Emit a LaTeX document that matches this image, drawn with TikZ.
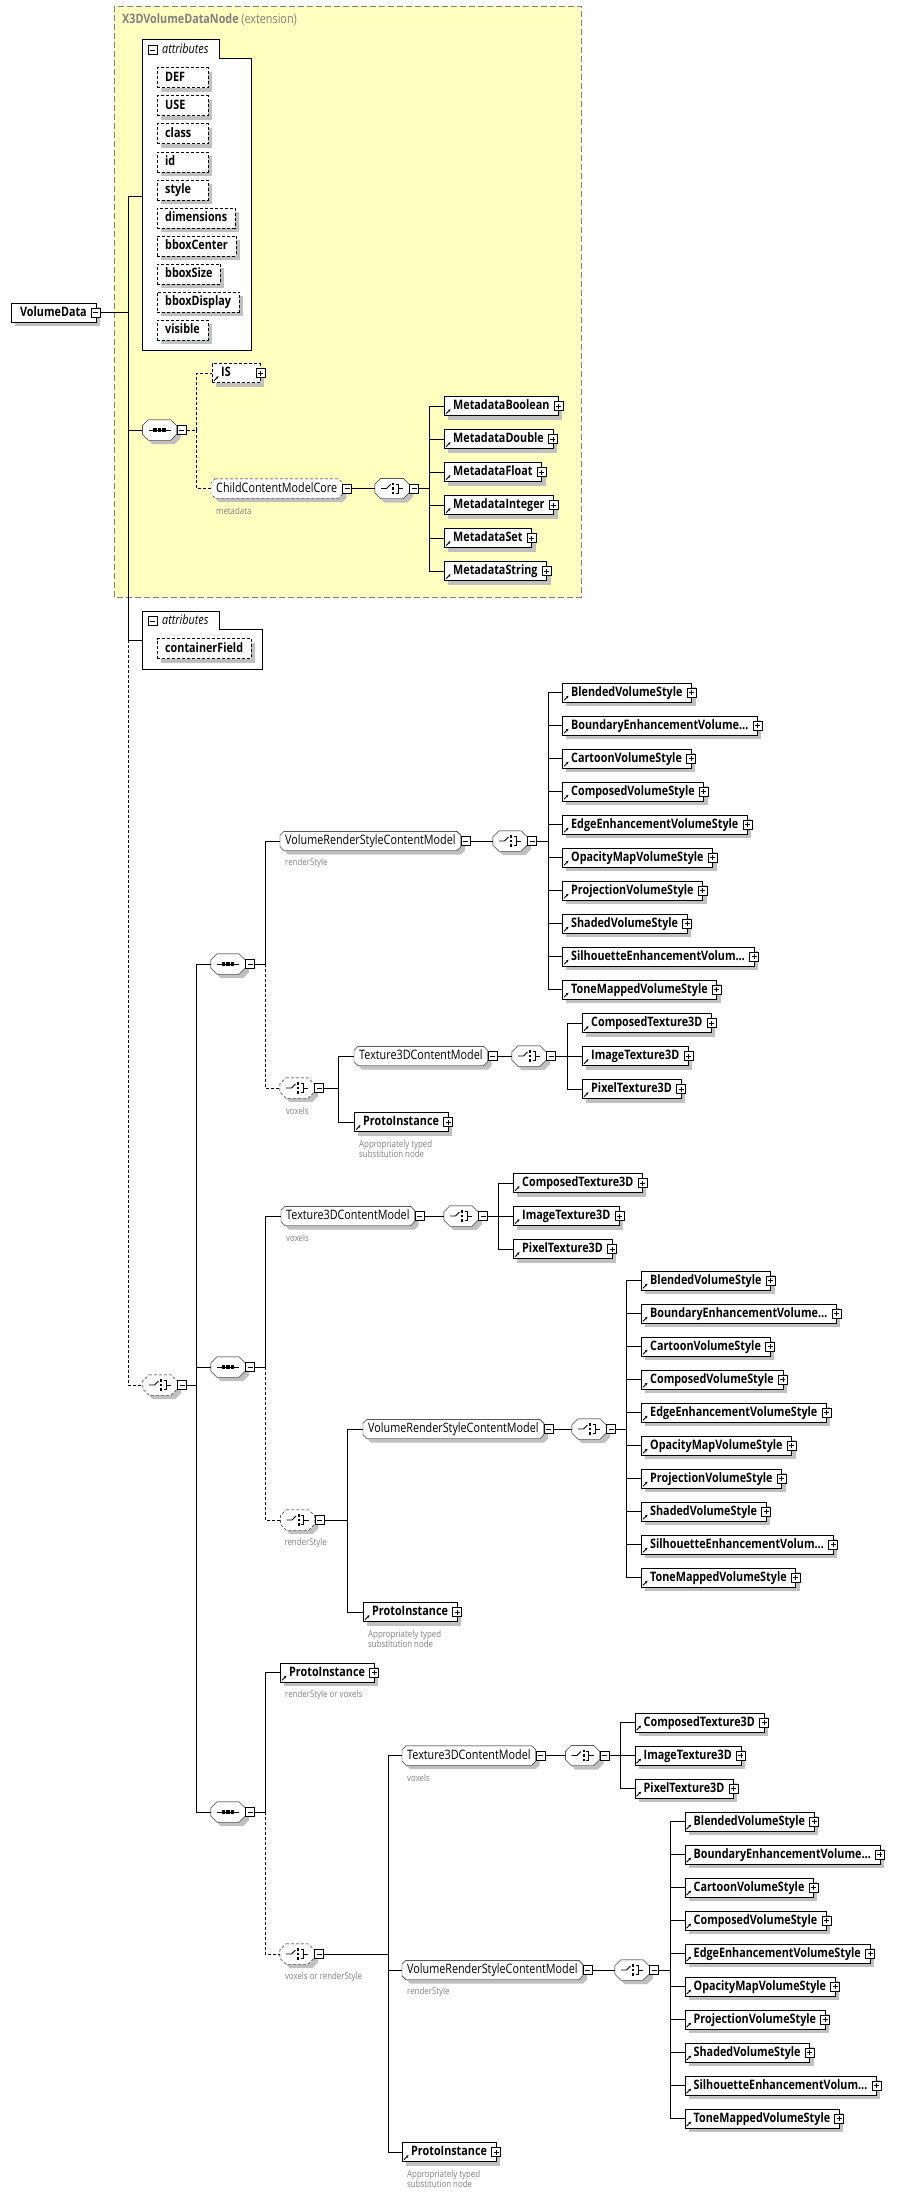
\documentclass[tikz,border=0pt]{standalone}
\usepackage{fontspec}
\setmainfont{Open Sans}[FakeStretch=0.83]
\usetikzlibrary{positioning, arrows.meta, shadows}
\definecolor{shadowgray}{RGB}{192,192,192}
\definecolor{notegray}{RGB}{128,128,128}
\definecolor{extyellow}{RGB}{255,255,192}
\pgfdeclarelayer{back}
\pgfdeclarelayer{shd}
\pgfdeclarelayer{body}
\pgfsetlayers{back,shd,body,main}
\newcommand\boxfont{\fontsize{13pt}{15pt}\selectfont}
\newcommand\notefont{\fontsize{9.5pt}{10.5pt}\selectfont}
\newcommand\stylelist{BlendedVolumeStyle,BoundaryEnhancementVolume\ldots,CartoonVolumeStyle,ComposedVolumeStyle,EdgeEnhancementVolumeStyle,OpacityMapVolumeStyle,ProjectionVolumeStyle,ShadedVolumeStyle,SilhouetteEnhancementVolum\ldots,ToneMappedVolumeStyle}
\newcommand\texlist{ComposedTexture3D,ImageTexture3D,PixelTexture3D}
\newcommand\metalist{MetadataBoolean,MetadataDouble,MetadataFloat,MetadataInteger,MetadataSet,MetadataString}
% left aligned text, padded to a least width
\newcommand\minw[2]{\setbox0\hbox{#2}\ifdim\wd0<#1\hbox to #1{\box0\hfil}\else\box0\fi}

% octagon outline round a node: node, chamfer, offset
\newcommand\octpath[3]{([shift={(#2+#3,-#3)}]#1.north west) -- ([shift={(-#2+#3,-#3)}]#1.north east)
  -- ([shift={(#3,-#2-#3)}]#1.north east) -- ([shift={(#3,#2-#3)}]#1.south east)
  -- ([shift={(-#2+#3,-#3)}]#1.south east) -- ([shift={(#2+#3,-#3)}]#1.south west)
  -- ([shift={(#3,#2-#3)}]#1.south west) -- ([shift={(#3,-#2-#3)}]#1.north west) -- cycle}
\newcommand\octbox[3][solid]{%
  \begin{pgfonlayer}{shd}\fill[shadowgray] \octpath{#2}{#3}{4pt};\end{pgfonlayer}
  \begin{pgfonlayer}{body}\draw[fill=white,#1] \octpath{#2}{#3}{0pt};\end{pgfonlayer}}
\newcommand\seqicon[1]{%
  \draw (#1.center) +(-11pt,0pt) -- +(11pt,0pt);
  \foreach \d in {-4.5,0,4.5} \fill ([xshift=\d pt]#1.center) +(-1.6pt,-1.6pt) rectangle +(1.6pt,1.6pt);}
\newcommand\choiceicon[1]{%
  \draw[line width=0.8pt] (#1.center) +(-11pt,0pt) -- +(-5.5pt,0pt) -- +(-1.5pt,4pt);
  \draw[line width=0.8pt] (#1.center) +(3.5pt,4.5pt) -- +(6pt,4.5pt) -- +(6pt,-4.5pt) -- +(3.5pt,-4.5pt) +(6pt,0pt) -- +(11pt,0pt);
  \foreach \d in {-4.5,0,4.5} \fill ([yshift=\d pt]#1.center) +(0pt,-1.2pt) rectangle +(2.4pt,1.2pt);}
\newcommand\seqnode[2]{%
  \node[comp] (#1) at (#2) {};
  \octbox{#1}{6pt}
  \seqicon{#1}
  \node[mbox, anchor=west] (#1-m) at (#1.east) {};}
\newcommand\choicenode[3][solid]{%
  \node[comp] (#2) at (#3) {};
  \octbox[#1]{#2}{6pt}
  \choiceicon{#2}
  \node[mbox, anchor=west] (#2-m) at (#2.east) {};}
\newcommand\grpnode[4][solid]{%
  \node[grp] (#2) at (#3) {#4};
  \octbox[#1]{#2}{4pt}
  \node[mbox, anchor=west] (#2-m) at (#2.east) {};}
\newcommand\refbox[4][elem]{%
  \node[#1] (#2) at (#3) {#4\hspace{3pt}};
  \draw[-{Stealth[length=2.6pt,width=2.6pt]}, line width=0.9pt, solid] ([shift={(2pt,2pt)}]#2.south west) -- ++(4.5pt,4.5pt);
  \node[pbox] (#2-p) at (#2.east) {};}

\begin{document}
\begin{tikzpicture}[x=1pt, y=-1pt, line width=1pt,
  dsh/.style={dash pattern=on 3pt off 2pt},
  shadowed/.style={drop shadow={shadow xshift=4pt, shadow yshift=-4pt, fill=shadowgray, opacity=1}},
  box/.style={anchor=west, minimum height=19pt, inner ysep=0pt, text height=9.5pt, text depth=2.5pt, font=\boxfont},
  elem/.style={box, draw, fill=white, inner xsep=9pt, font=\boxfont\bfseries, shadowed},
  elemd/.style={elem, dsh},
  attr/.style={box, draw, dsh, fill=white, minimum height=20pt, inner xsep=8pt, font=\boxfont\bfseries, shadowed},
  grp/.style={box, inner xsep=5pt},
  comp/.style={minimum width=34pt, minimum height=20pt, inner sep=0pt},
  sq/.style={draw, solid, fill=white, minimum size=9pt, inner sep=0pt, line width=0.8pt},
  mbox/.style={sq, path picture={\draw[line width=0.8pt] ([xshift=2pt]path picture bounding box.west) -- ([xshift=-2pt]path picture bounding box.east);}},
  pbox/.style={sq, path picture={\draw[line width=0.8pt] ([xshift=2pt]path picture bounding box.west) -- ([xshift=-2pt]path picture bounding box.east) ([yshift=2pt]path picture bounding box.south) -- ([yshift=-2pt]path picture bounding box.north);}},
  note/.style={anchor=west, inner sep=0pt, font=\notefont, text=notegray, align=left},
  extbox/.style={draw=notegray, fill=extyellow, dash pattern=on 6pt off 3pt}]
\useasboundingbox (0,0) rectangle (914,2197);

% extension base
\begin{pgfonlayer}{back}
  \draw[extbox] (114,6) rectangle (581,597);
\end{pgfonlayer}
\node[box, inner xsep=0pt, text=notegray] (extT) at (122,20) {\textbf{X3DVolumeDataNode} (extension)};

% attributes
\draw[fill=white] (142.5,39) -- (219.5,39) -- (219.5,58) -- (251,58) -- (251,350) -- (142.5,350) -- cycle;
\coordinate (atts) at (142.5,196);
\node[mbox] (atts-m) at (152.5,50) {};
\node[box, inner xsep=0pt, font=\boxfont\itshape] (attsT) at (162,50) {attributes};
\foreach \nm [count=\i] in {DEF,USE,class,id,style,dimensions,bboxCenter,bboxSize,bboxDisplay,visible}
  \node[attr] (att\i) at (157,{77.7+28*(\i-1)}) {\minw{35pt}{\nm}};

% root
\node[elem] (vd) at (11,312.5) {VolumeData\hspace{3pt}};
\node[mbox] (vd-m) at (vd.east) {};
\coordinate (sp1) at (128,196);
\coordinate (sp2) at (128,640);
\coordinate (sp3) at (128,1385);
\draw (vd-m.east) -- (vd-m.east -| sp1);
\draw (atts) -- (sp1) -- (sp2);

% IS / metadata
\seqnode{seqT}{159.5,430}
\draw (seqT.west -| sp1) -- (seqT.west);
\coordinate (barT) at (196.5,430);
\refbox[elemd]{isb}{212,373}{\minw{30pt}{IS}}
\grpnode[dsh]{ccmc}{211,488.5}{ChildContentModelCore}
\node[note] (ccmcL) at ([shift={(5pt,-12.5pt)}]ccmc.south west) {metadata};
\draw[dsh] (seqT-m.east) -- (barT);
\draw[dsh] (barT) |- (isb.west);
\draw[dsh] (barT) |- (ccmc.west);
\choicenode{chM}{392,488.5}
\coordinate (barM) at (429.5,488.5);
\draw (ccmc-m.east) -- (chM.west);
\draw (chM-m.east) -- (barM);
\foreach \nm [count=\i] in \metalist {
  \refbox{md\i}{444,{406+33*(\i-1)}}{\nm}
  \draw (barM) |- (md\i.west);
}

% containerField
\draw[fill=white] (142,611) -- (219,611) -- (219,629) -- (262,629) -- (262,669) -- (142,669) -- cycle;
\coordinate (atts2) at (142,640);
\node[mbox] (atts2-m) at (152.5,621) {};
\node[box, inner xsep=0pt, font=\boxfont\itshape] (atts2T) at (162,621) {attributes};
\node[attr] (cf) at (157,648.5) {containerField\hspace{1pt}};
\draw (sp2) -- (atts2);

% content choice
\choicenode[dsh]{chT}{160,1385}
\draw[dsh] (sp2) -- (sp3) -- (chT.west);
\coordinate (barTC) at (196,1385);
\draw (chT-m.east) -- (barTC);

% sequence A
\seqnode{seqA}{228,964}
\coordinate (jA) at (265,964);
\draw (barTC) |- (seqA.west);
\grpnode{vrsA}{280,841}{VolumeRenderStyleContentModel}
\node[note] (vrsAL) at ([shift={(5pt,-12.5pt)}]vrsA.south west) {renderStyle};
\choicenode[dsh]{chA}{297,1088}
\node[note] (chAL) at ([shift={(6pt,-12.5pt)}]chA.south west) {voxels};
\draw (seqA-m.east) -- (jA) |- (vrsA.west);
\draw[dsh] (jA) |- (chA.west);
\choicenode{chvA}{510,841}
\coordinate (barvA) at (548,841);
\draw (vrsA-m.east) -- (chvA.west);
\draw (chvA-m.east) -- (barvA);
\foreach \nm [count=\i] in \stylelist {
  \refbox{stA\i}{562,{692.5+33*(\i-1)}}{\nm}
  \draw (barvA) |- (stA\i.west);
}
\coordinate (barA) at (338,1088);
\draw (chA-m.east) -- (barA);
\grpnode{t3A}{354,1056}{Texture3DContentModel}
\refbox{piA}{354,1122}{ProtoInstance}
\node[note, anchor=north west] (piAL) at ([shift={(5pt,-8pt)}]piA.south west) {Appropriately typed\\substitution node};
\draw (barA) |- (t3A.west);
\draw (barA) |- (piA.west);
\choicenode{chtA}{529,1056}
\coordinate (bartA) at (567,1056);
\draw (t3A-m.east) -- (chtA.west);
\draw (chtA-m.east) -- (bartA);
\foreach \nm [count=\i] in \texlist {
  \refbox{txA\i}{582,{1023+33*(\i-1)}}{\nm}
  \draw (bartA) |- (txA\i.west);
}

% sequence B
\seqnode{seqB}{228,1367}
\coordinate (jB) at (265,1367);
\draw (barTC) |- (seqB.west);
\grpnode{t3B}{281,1216}{Texture3DContentModel}
\node[note] (t3BL) at ([shift={(5pt,-12.5pt)}]t3B.south west) {voxels};
\choicenode[dsh]{chB}{297.5,1520}
\node[note] (chBL) at ([shift={(4pt,-12.5pt)}]chB.south west) {renderStyle};
\draw (seqB-m.east) -- (jB) |- (t3B.west);
\draw[dsh] (jB) |- (chB.west);
\choicenode{chtB}{461,1216}
\coordinate (bartB) at (498,1216);
\draw (t3B-m.east) -- (chtB.west);
\draw (chtB-m.east) -- (bartB);
\foreach \nm [count=\i] in \texlist {
  \refbox{txB\i}{513,{1183+33*(\i-1)}}{\nm}
  \draw (bartB) |- (txB\i.west);
}
\coordinate (barB) at (347,1520);
\draw (chB-m.east) -- (barB);
\grpnode{vrsB}{363,1429}{VolumeRenderStyleContentModel}
\refbox{piB}{363,1612}{ProtoInstance}
\node[note, anchor=north west] (piBL) at ([shift={(5pt,-8pt)}]piB.south west) {Appropriately typed\\substitution node};
\draw (barB) |- (vrsB.west);
\draw (barB) |- (piB.west);
\choicenode{chvB}{589,1429}
\coordinate (barvB) at (626,1429);
\draw (vrsB-m.east) -- (chvB.west);
\draw (chvB-m.east) -- (barvB);
\foreach \nm [count=\i] in \stylelist {
  \refbox{stB\i}{641,{1280.5+33*(\i-1)}}{\nm}
  \draw (barvB) |- (stB\i.west);
}

% sequence C
\seqnode{seqC}{228,1812}
\coordinate (jC) at (265,1812);
\draw (barTC) |- (seqC.west);
\refbox{piC}{280,1672.5}{ProtoInstance}
\node[note] (piCL) at ([shift={(5pt,-12.5pt)}]piC.south west) {renderStyle or voxels};
\choicenode[dsh]{chC}{297,1954}
\node[note] (chCL) at ([shift={(5pt,-12.5pt)}]chC.south west) {voxels or renderStyle};
\draw (seqC-m.east) -- (jC) |- (piC.west);
\draw[dsh] (jC) |- (chC.west);
\coordinate (barC) at (388,1954);
\draw (chC-m.east) -- (barC);
\grpnode{t3C}{402,1755.5}{Texture3DContentModel}
\node[note] (t3CL) at ([shift={(5pt,-12.5pt)}]t3C.south west) {voxels};
\grpnode{vrsC}{402,1970}{VolumeRenderStyleContentModel}
\node[note] (vrsCL) at ([shift={(5pt,-12.5pt)}]vrsC.south west) {renderStyle};
\refbox{piD}{402,2152}{ProtoInstance}
\node[note, anchor=north west] (piDL) at ([shift={(5pt,-8pt)}]piD.south west) {Appropriately typed\\substitution node};
\draw (barC) |- (t3C.west);
\draw (barC) |- (vrsC.west);
\draw (barC) |- (piD.west);
\choicenode{chtC}{582.5,1755.5}
\coordinate (bartC) at (620,1755.5);
\draw (t3C-m.east) -- (chtC.west);
\draw (chtC-m.east) -- (bartC);
\foreach \nm [count=\i] in \texlist {
  \refbox{txC\i}{634.5,{1722.5+33*(\i-1)}}{\nm}
  \draw (bartC) |- (txC\i.west);
}
\choicenode{chvC}{632,1970}
\coordinate (barvC) at (670,1970);
\draw (vrsC-m.east) -- (chvC.west);
\draw (chvC-m.east) -- (barvC);
\foreach \nm [count=\i] in \stylelist {
  \refbox{stC\i}{684.5,{1821.5+33*(\i-1)}}{\nm}
  \draw (barvC) |- (stC\i.west);
}
\end{tikzpicture}
\end{document}
